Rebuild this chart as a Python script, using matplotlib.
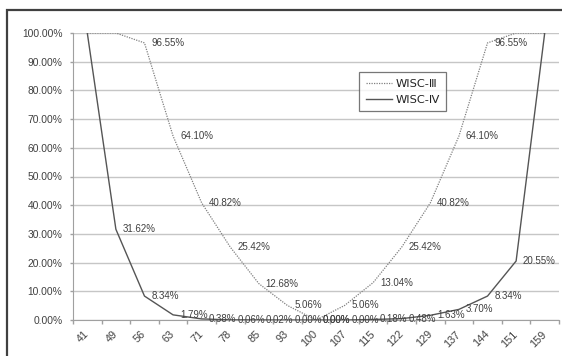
import matplotlib
matplotlib.use("Agg")
import matplotlib.pyplot as plt
from matplotlib.patches import Rectangle
from matplotlib.ticker import FuncFormatter, MultipleLocator, FixedLocator

categories = ["41", "49", "56", "63", "71", "78", "85", "93", "100", "107",
              "115", "122", "129", "137", "144", "151", "159"]
wisc3 = [100.0, 100.0, 96.55, 64.10, 40.82, 25.42, 12.68, 5.06, 0.00, 5.06,
         13.04, 25.42, 40.82, 64.10, 96.55, 100.0, 100.0]
wisc4 = [100.0, 31.62, 8.34, 1.79, 0.38, 0.06, 0.02, 0.00, 0.00, 0.00,
         0.18, 0.48, 1.63, 3.70, 8.34, 20.55, 100.0]
series_names = ["WISC-Ⅲ", "WISC-Ⅳ"]

FONT = ["Liberation Sans", "Noto Sans CJK JP", "DejaVu Sans"]
plt.rcParams["font.family"] = FONT
TXT = "#404040"

fig = plt.figure(figsize=(5.62, 3.56), dpi=100)
ax = fig.add_axes([73/562, 1-320/356, (559-73)/562, (320-33)/356])

x = list(range(len(categories)))
l3, = ax.plot(x, wisc3, color="#808080", lw=0.9, linestyle=(0, (1, 1)), label=series_names[0], zorder=3)
l4, = ax.plot(x, wisc4, color="#555555", lw=1.0, linestyle="-", label=series_names[1], zorder=3)

for series in (wisc3, wisc4):
    for xi, v in zip(x, series):
        if v < 100:
            ax.annotate(f"{v:.2f}%", (xi, v), xytext=(5, 0), textcoords="offset points",
                        ha="left", va="center", fontsize=7.0, color=TXT, zorder=4)

ax.set_xlim(-0.5, len(categories) - 0.5)
ax.set_ylim(0, 100)
ax.yaxis.set_major_locator(MultipleLocator(10))
ax.yaxis.set_major_formatter(FuncFormatter(lambda v, p: f"{v:.2f}%"))
ax.grid(axis="y", color="#c6c6c6", lw=1.0)
ax.set_axisbelow(True)

ax.set_xticks(x)
ax.set_xticklabels(categories, rotation=45, ha="right", va="center", rotation_mode="anchor")
ax.xaxis.set_minor_locator(FixedLocator([i - 0.5 for i in range(len(categories) + 1)]))
ax.tick_params(axis="x", which="major", length=0, pad=9, labelsize=7.8, labelcolor=TXT)
ax.tick_params(axis="x", which="minor", length=3, color="#a0a0a0", width=1)
ax.tick_params(axis="y", which="major", length=2.2, color="#a0a0a0", width=1, pad=5.5, labelsize=7.4, labelcolor=TXT)

for s in ["top", "right"]:
    ax.spines[s].set_visible(False)
ax.spines["left"].set_color("#a0a0a0")
ax.spines["bottom"].set_color("#a0a0a0")

leg = ax.legend(handles=[l3, l4], loc="upper left", bbox_to_anchor=(0.588, 0.864),
                borderaxespad=0, frameon=True, fancybox=False,
                prop={"family": ["DejaVu Sans"], "size": 8.2},
                handlelength=2.3, handletextpad=0.3, labelspacing=0.5, borderpad=0.6)
leg.get_frame().set_edgecolor("#555555")
leg.get_frame().set_linewidth(0.9)
for t in leg.get_texts():
    t.set_color("#222222")

# chart border
fig.patches.append(Rectangle((7/562, -0.2), 1.2, 1 - 10/356 + 0.2, transform=fig.transFigure,
                             fill=False, edgecolor="#404040", lw=1.6, zorder=10))

fig.savefig("out.png", dpi=100)
